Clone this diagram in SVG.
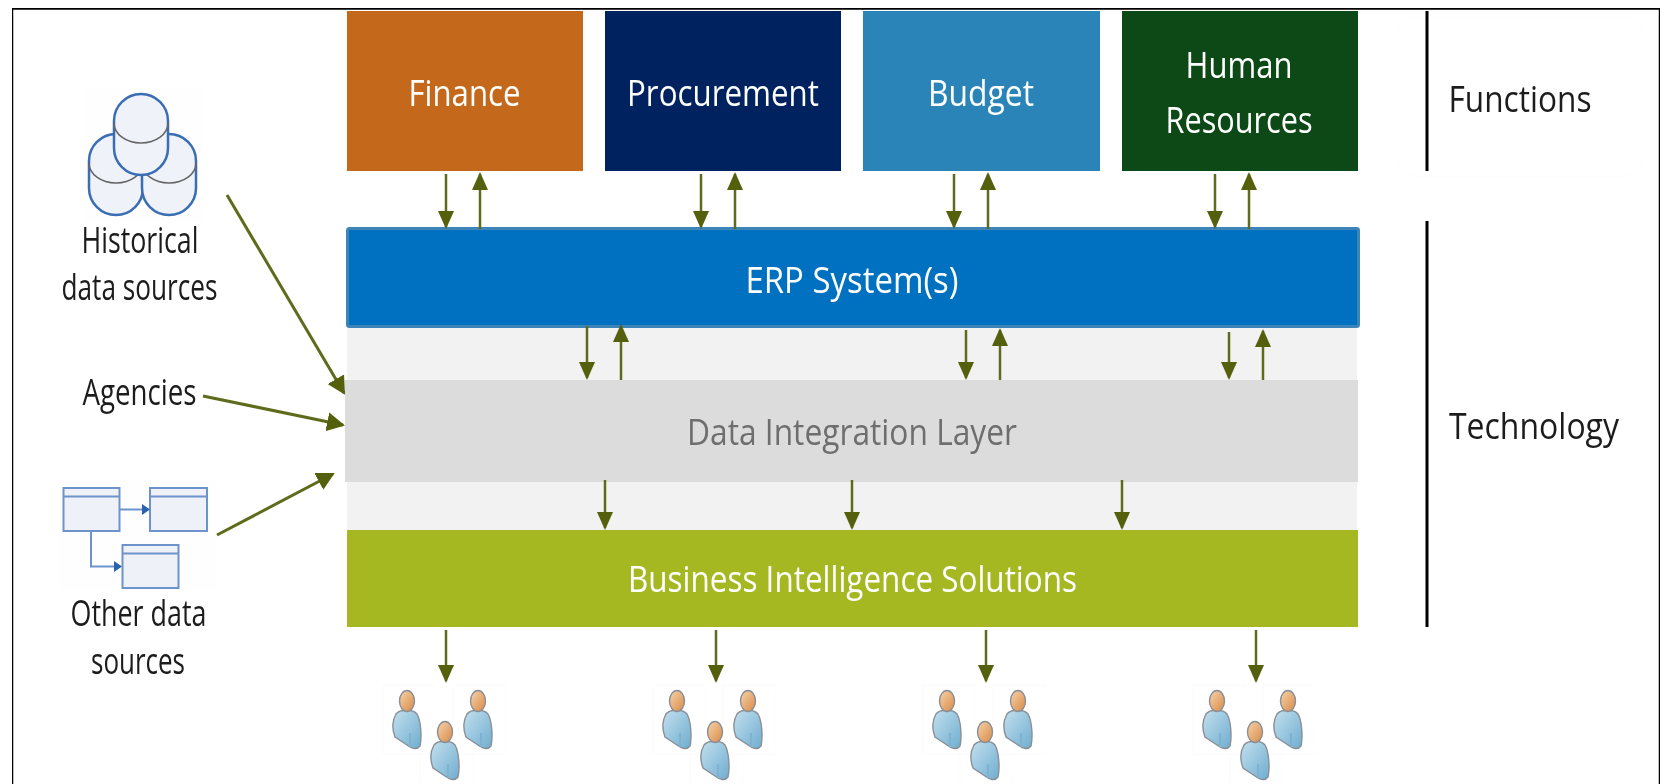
<svg xmlns="http://www.w3.org/2000/svg" width="1661" height="784" viewBox="0 0 1661 784">
<style>
text{font-family:"Open Sans","Noto Sans","Liberation Sans",sans-serif;text-anchor:middle}
.w{fill:#fff;font-size:37px}
.k{fill:#1c1c1c;font-size:36px}
.c line{stroke:#5f6b1a;stroke-width:2.5;marker-end:url(#ah)}
.c line.d{stroke-width:3;marker-end:url(#ahd)}
.cyl{fill:#eff2f8;stroke:#3a6db5;stroke-width:2.5}
.arc{fill:none;stroke:#666;stroke-width:1.6}
.tb{fill:#eef1f7;stroke:#6d93cc;stroke-width:2}
.ln{fill:none;stroke:#6d93cc;stroke-width:2}
.f{fill:none;stroke:#fcfcfc;stroke-width:1}
</style>
<defs>
<filter id="soft" x="0" y="0" width="100%" height="100%"><feGaussianBlur stdDeviation="0.45"/></filter>
<marker id="ah" markerUnits="userSpaceOnUse" markerWidth="18" markerHeight="16" viewBox="0 0 18 16" refX="16" refY="8" orient="auto"><path d="M0 0L18 8L0 16Z" fill="#556010"/></marker>
<marker id="ahd" markerUnits="userSpaceOnUse" markerWidth="18" markerHeight="19" viewBox="0 0 18 19" refX="16" refY="9.500" orient="auto"><path d="M0 0L18 9.500L0 19Z" fill="#556010"/></marker>
<linearGradient id="hd" x1="0" y1="0" x2="1" y2="1"><stop offset="0" stop-color="#f6d3ac"/><stop offset="1" stop-color="#d98a45"/></linearGradient>
<linearGradient id="bd" x1="0" y1="0" x2="1" y2="1"><stop offset="0" stop-color="#c3e0ee"/><stop offset="1" stop-color="#6fadd0"/></linearGradient>
<g id="p">
<path d="M-11 13C-7 8 6 8 10 13C14 20 15 36 13 45C10 49 5 48 0 44L-12 36C-15 28 -15 20 -11 13Z" fill="url(#bd)" stroke="#8a8f96" stroke-width="1.4"/>
<path d="M3 32V46" stroke="#7fb2cf" stroke-width="2" fill="none"/>
<ellipse cx="0" cy="0" rx="7.500" ry="10.500" fill="url(#hd)" stroke="#8a8f96" stroke-width="1.4"/>
</g>
<g id="ppl">
<rect class="f" x="383" y="685" width="52" height="69"/>
<rect class="f" x="453" y="685" width="52" height="69"/>
<rect class="f" x="420" y="754" width="52" height="30"/>
<use href="#p" x="407" y="701"/>
<use href="#p" x="478" y="701"/>
<use href="#p" x="445" y="732"/>
</g>
<g id="cy">
<path class="cyl" d="M0 27A27 27 0 0 1 54 27V54A27 27 0 0 1 0 54Z"/>
<path class="arc" d="M0 29A27 20 0 0 0 54 29"/>
</g>
</defs>
<rect width="1661" height="784" fill="#fff"/>
<g filter="url(#soft)">
<path d="M12 784V8.500H1660V784" fill="none" stroke="#000" stroke-width="2.500"/>
<g id="hist-icon">
<rect x="85" y="87" width="118" height="135" fill="#fefefe"/>
<use href="#cy" x="89" y="134"/>
<use href="#cy" x="142" y="134"/>
<use href="#cy" x="114" y="94"/>
</g>
<g id="historical"><text class="k" x="140" y="253" textLength="117" lengthAdjust="spacingAndGlyphs">Historical</text><text class="k" x="139.500" y="300" textLength="156" lengthAdjust="spacingAndGlyphs">data sources</text></g>
<g id="agencies"><text class="k" x="139.500" y="405" textLength="114" lengthAdjust="spacingAndGlyphs">Agencies</text></g>
<g id="other-icon">
<rect x="60" y="480" width="157" height="110" fill="#fefefe"/>
<rect class="tb" x="63.500" y="488" width="56" height="43"/><path class="ln" d="M63.500 496.500H119.500"/>
<rect class="tb" x="150" y="488" width="57" height="43"/><path class="ln" d="M150 496.500H207"/>
<rect class="tb" x="122.500" y="545" width="56" height="43"/><path class="ln" d="M122.500 553.500H178.500"/>
<path class="ln" d="M120 509.500H144M91 531V566.500H117"/>
<path d="M142 504L150 509.500L142 515ZM114 561L122 566.500L114 572Z" fill="#2b62ad"/>
</g>
<g id="other"><text class="k" x="138.500" y="626" textLength="136" lengthAdjust="spacingAndGlyphs">Other data</text><text class="k" x="138" y="674" textLength="94" lengthAdjust="spacingAndGlyphs">sources</text></g>
<g id="finance"><rect x="347" y="11" width="236" height="160" fill="#c4691a"/><text class="w" x="464.500" y="106" textLength="112" lengthAdjust="spacingAndGlyphs">Finance</text></g>
<g id="procurement"><rect x="605" y="11" width="236" height="160" fill="#00205e"/><text class="w" x="723" y="106" textLength="192" lengthAdjust="spacingAndGlyphs">Procurement</text></g>
<g id="budget"><rect x="863" y="11" width="237" height="160" fill="#2984b8"/><text class="w" x="981" y="106" textLength="106" lengthAdjust="spacingAndGlyphs">Budget</text></g>
<g id="hr"><rect x="1122" y="11" width="236" height="160" fill="#0f4a14"/><text class="w" x="1239" y="78" textLength="107" lengthAdjust="spacingAndGlyphs">Human</text><text class="w" x="1239" y="133" textLength="147" lengthAdjust="spacingAndGlyphs">Resources</text></g>
<rect id="band" x="347" y="328" width="1010" height="202" fill="#f2f2f2"/>
<g id="erp"><rect x="347.500" y="228.500" width="1011" height="98" rx="2" fill="#0070c0" stroke="#3d85b8" stroke-width="3"/><text class="w" x="852" y="293" textLength="213" lengthAdjust="spacingAndGlyphs">ERP System(s)</text></g>
<g id="dil"><rect x="345" y="380" width="1013" height="102" fill="#dcdcdc"/><text x="852" y="445" font-size="37" fill="#6e6e6e" textLength="330" lengthAdjust="spacingAndGlyphs">Data Integration Layer</text></g>
<g id="bi"><rect x="347" y="530" width="1011" height="97" fill="#a5b824"/><text class="w" x="852.500" y="592" textLength="449" lengthAdjust="spacingAndGlyphs">Business Intelligence Solutions</text></g>
<g id="functions"><rect x="1397" y="17" width="246" height="159" rx="20" class="f"/><text class="k" x="1520" y="112" textLength="143" lengthAdjust="spacingAndGlyphs">Functions</text></g>
<g id="technology"><text class="k" x="1534" y="439" textLength="170" lengthAdjust="spacingAndGlyphs">Technology</text></g>
<g id="bars"><rect x="1425.500" y="11" width="3" height="160" fill="#000"/><rect x="1425.500" y="221" width="3" height="406" fill="#000"/></g>
<g id="users">
<use href="#ppl"/><use href="#ppl" x="270"/><use href="#ppl" x="540"/><use href="#ppl" x="810"/>
</g>
<g id="connectors" class="c">
<line x1="446" y1="174" x2="446" y2="227"/><line x1="480" y1="229" x2="480" y2="174"/>
<line x1="701" y1="174" x2="701" y2="227"/><line x1="735" y1="229" x2="735" y2="174"/>
<line x1="954" y1="174" x2="954" y2="227"/><line x1="988" y1="229" x2="988" y2="174"/>
<line x1="1215" y1="174" x2="1215" y2="227"/><line x1="1249" y1="229" x2="1249" y2="174"/>
<line x1="587" y1="326" x2="587" y2="378"/><line x1="621" y1="380" x2="621" y2="326"/>
<line x1="966" y1="330" x2="966" y2="378"/><line x1="1000" y1="380" x2="1000" y2="330"/>
<line x1="1229" y1="332" x2="1229" y2="378"/><line x1="1263" y1="380" x2="1263" y2="331"/>
<line x1="605" y1="480" x2="605" y2="528"/><line x1="852" y1="480" x2="852" y2="528"/><line x1="1122" y1="480" x2="1122" y2="528"/>
<line x1="446" y1="630" x2="446" y2="681"/><line x1="716" y1="630" x2="716" y2="681"/><line x1="986" y1="630" x2="986" y2="681"/><line x1="1256" y1="630" x2="1256" y2="681"/>
<line class="d" x1="227" y1="195" x2="344" y2="393"/>
<line class="d" x1="203" y1="396" x2="343" y2="425"/>
<line class="d" x1="217" y1="535" x2="333" y2="474"/>
</g>
</g>
</svg>
